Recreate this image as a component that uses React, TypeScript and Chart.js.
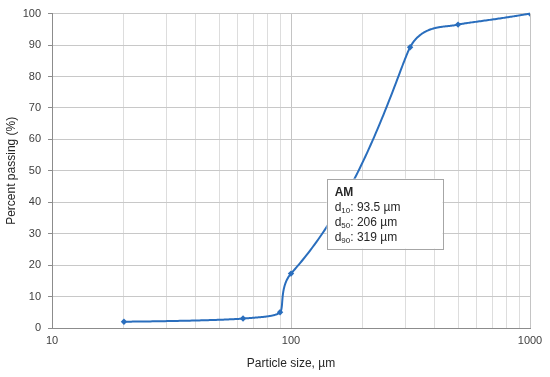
import React, { useEffect, useRef } from "react";
import { Chart, registerables } from "chart.js";

Chart.register(...registerables);

const particleSizes = [20, 63, 90, 100, 315, 500, 1000];
const percentPassing = [2, 3, 5, 17.3, 89.3, 96.5, 100];
const xGridValues = [10, 20, 30, 40, 50, 60, 70, 80, 90, 100, 200, 300, 400, 500, 600, 700, 800, 900, 1000];
const xLabelValues = [10, 100, 1000];
const boxTitle = "AM";
const boxLines = [
  { sub: "10", value: ": 93.5 µm" },
  { sub: "50", value: ": 206 µm" },
  { sub: "90", value: ": 319 µm" },
];

const FONT = "'Liberation Sans', Arial, sans-serif";
const LINE_COLOR = "#2a6ebd";
const SMOOTH = 0.35;

// Smoothed curve (spreadsheet-style) computed in linear value space, drawn through the chart scales
const smoothLinePlugin = {
  id: "smoothLine",
  beforeDatasetsDraw(chart: any) {
    const { ctx, scales, chartArea } = chart;
    const xs = scales.x;
    const ys = scales.y;
    const W = chartArea.right - chartArea.left;
    const H = chartArea.bottom - chartArea.top;
    const toU = (x: number) => ((x - xs.min) / (xs.max - xs.min)) * W;
    const toV = (y: number) => ((y - ys.min) / (ys.max - ys.min)) * H;
    const fromU = (u: number) => xs.min + (u / W) * (xs.max - xs.min);
    const fromV = (v: number) => ys.min + (v / H) * (ys.max - ys.min);
    const P = particleSizes.map((x, i) => ({ u: toU(x), v: toV(percentPassing[i]) }));
    const n = P.length;
    const dist = (a: any, b: any) => Math.hypot(b.u - a.u, b.v - a.v);
    const arms = P.map((p, i) => {
      if (i === 0 || i === n - 1) return { u: 0, v: 0 };
      const d0 = dist(P[i - 1], p);
      const d1 = dist(p, P[i + 1]);
      const f = (SMOOTH * Math.min(d0, d1)) / (d0 + d1);
      return { u: (P[i + 1].u - P[i - 1].u) * f, v: (P[i + 1].v - P[i - 1].v) * f };
    });
    ctx.save();
    ctx.beginPath();
    ctx.rect(chartArea.left, chartArea.top - 2, W, H + 4);
    ctx.clip();
    ctx.beginPath();
    ctx.strokeStyle = LINE_COLOR;
    ctx.lineWidth = 2;
    ctx.lineJoin = "round";
    ctx.lineCap = "round";
    for (let i = 0; i < n - 1; i++) {
      const p0 = P[i];
      const p3 = P[i + 1];
      const c1 = { u: p0.u + arms[i].u, v: p0.v + arms[i].v };
      const c2 = { u: p3.u - arms[i + 1].u, v: p3.v - arms[i + 1].v };
      const steps = 80;
      for (let s = i === 0 ? 0 : 1; s <= steps; s++) {
        const t = s / steps;
        const a = (1 - t) ** 3, b = 3 * (1 - t) ** 2 * t, c = 3 * (1 - t) * t * t, d = t ** 3;
        const u = a * p0.u + b * c1.u + c * c2.u + d * p3.u;
        const v = a * p0.v + b * c1.v + c * c2.v + d * p3.v;
        const px = xs.getPixelForValue(fromU(u));
        const py = ys.getPixelForValue(fromV(v));
        if (i === 0 && s === 0) ctx.moveTo(px, py);
        else ctx.lineTo(px, py);
      }
    }
    ctx.stroke();
    ctx.restore();
  },
};

const annotationPlugin = {
  id: "gsdBox",
  afterDraw(chart: any) {
    const { ctx, scales } = chart;
    const x = scales.x.getPixelForValue(141);
    const y = scales.y.getPixelForValue(47.5);
    const w = 116;
    const h = 70;
    ctx.save();
    ctx.fillStyle = "#ffffff";
    ctx.fillRect(x, y, w, h);
    ctx.strokeStyle = "#a6a6a6";
    ctx.lineWidth = 1;
    ctx.strokeRect(Math.round(x) + 0.5, Math.round(y) + 0.5, w, h);
    ctx.fillStyle = "#262626";
    ctx.textBaseline = "alphabetic";
    ctx.textAlign = "left";
    const tx = x + 8;
    ctx.font = `bold 12px ${FONT}`;
    ctx.fillText(boxTitle, tx, y + 17);
    boxLines.forEach((ln, i) => {
      const by = y + 32 + i * 15;
      ctx.font = `12px ${FONT}`;
      ctx.fillText("d", tx, by);
      const dw = ctx.measureText("d").width;
      ctx.font = `8px ${FONT}`;
      ctx.fillText(ln.sub, tx + dw, by + 2);
      const sw = ctx.measureText(ln.sub).width;
      ctx.font = `12px ${FONT}`;
      ctx.fillText(ln.value, tx + dw + sw, by);
    });
    ctx.restore();
  },
};

export default function App() {
  const ref = useRef<HTMLCanvasElement>(null);
  useEffect(() => {
    if (!ref.current) return;
    const chart = new Chart(ref.current, {
      type: "line",
      data: {
        datasets: [
          {
            data: particleSizes.map((v, i) => ({ x: v, y: percentPassing[i] })),
            borderColor: LINE_COLOR,
            backgroundColor: LINE_COLOR,
            showLine: false,
            pointStyle: "rectRot",
            pointRadius: 3.2,
            pointBorderWidth: 0,
          },
        ],
      },
      options: {
        animation: false,
        responsive: false,
        maintainAspectRatio: false,
        layout: { padding: { top: 10, right: 20, left: 0, bottom: 0 } },
        plugins: { legend: { display: false }, tooltip: { enabled: false } },
        scales: {
          x: {
            type: "logarithmic",
            min: 10,
            max: 1000,
            afterBuildTicks: (scale: any) => {
              scale.ticks = xGridValues.map((v) => ({ value: v, major: xLabelValues.includes(v) }));
            },
            afterFit: (scale: any) => {
              scale.height = 49;
            },
            ticks: {
              autoSkip: false,
              maxRotation: 0,
              padding: 6,
              color: "#404040",
              font: { family: FONT, size: 11 },
              callback: (value: any) => (xLabelValues.includes(Number(value)) ? String(value) : ""),
            },
            grid: {
              color: (c: any) => (c.tick && xLabelValues.includes(c.tick.value) ? "#c4c4c4" : "#dddddd"),
              tickLength: 4,
              drawTicks: false,
            },
            border: { color: "#8c8c8c", width: 1 },
            title: {
              display: true,
              text: "Particle size, µm",
              color: "#262626",
              font: { family: FONT, size: 12 },
              padding: { top: 0, bottom: 6 },
            },
          },
          y: {
            min: 0,
            max: 100,
            afterFit: (scale: any) => {
              scale.width = 52;
            },
            ticks: {
              stepSize: 10,
              padding: 7,
              color: "#404040",
              font: { family: FONT, size: 11 },
            },
            grid: {
              color: "#c8c8c8",
              tickLength: 4,
              tickColor: "#8c8c8c",
            },
            border: { color: "#8c8c8c", width: 1 },
            title: {
              display: true,
              text: "Percent passing (%)",
              color: "#262626",
              font: { family: FONT, size: 12 },
              padding: { top: 4, bottom: 0 },
            },
          },
        },
      },
      plugins: [smoothLinePlugin, annotationPlugin],
    } as any);
    return () => chart.destroy();
  }, []);
  return (
    <div style={{ position: "fixed", left: 0, top: 0, width: 550, height: 377, background: "#fff" }}>
      <canvas ref={ref} width={550} height={377} style={{ width: 550, height: 377, display: "block" }} />
    </div>
  );
}
